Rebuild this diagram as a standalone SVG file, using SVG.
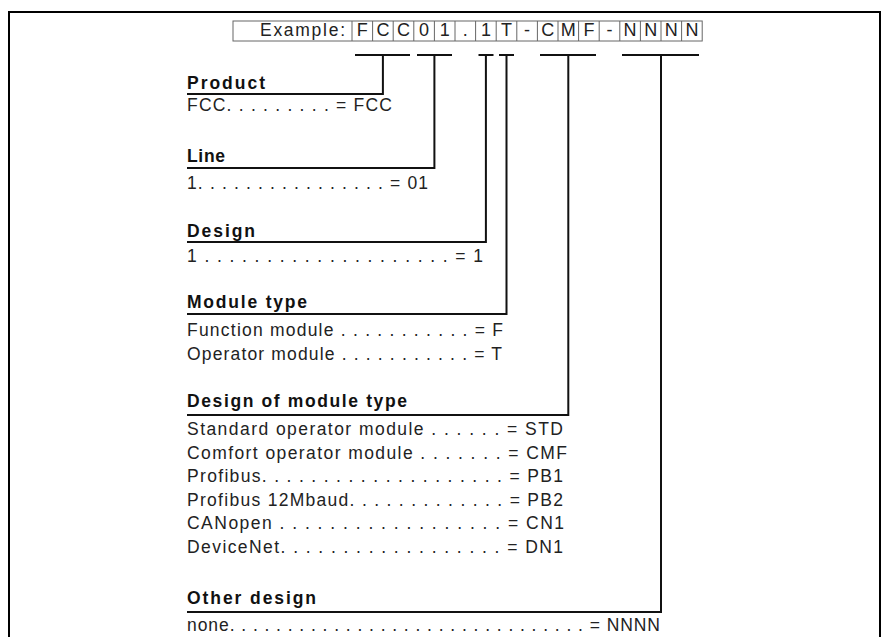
<svg xmlns="http://www.w3.org/2000/svg" width="883" height="637" viewBox="0 0 883 637">
<style>
.t{font-family:"Liberation Sans",Arial,sans-serif;font-size:17.5px;fill:#222;}
.h{font-family:"Liberation Sans",Arial,sans-serif;font-size:17.5px;font-weight:bold;fill:#111;}
.c{font-family:"Liberation Sans",Arial,sans-serif;font-size:18px;fill:#222;text-anchor:middle;}
.cell{fill:none;stroke:#666;stroke-width:1;}
.conn{fill:none;stroke:#111;stroke-width:2;}
.frame{fill:none;stroke:#000;stroke-width:2;}
</style>
<rect width="883" height="637" fill="#fff"/>
<polyline class="frame" points="9,637 9,12 880,12 880,637"/>
<g id="header">
<rect class="cell" x="233" y="21" width="469.2" height="20"/>
<path class="cell" d="M352,21V41M372.6,21V41M393.2,21V41M413.8,21V41M434.4,21V41M455,21V41M475.6,21V41M496.2,21V41M516.8,21V41M537.4,21V41M558,21V41M578.6,21V41M599.2,21V41M619.8,21V41M640.4,21V41M661,21V41M681.6,21V41"/>
<text class="t" x="260" y="36" textLength="85">Example:</text>
<text class="c" y="36"><tspan x="362.3">F</tspan><tspan x="382.9">C</tspan><tspan x="403.5">C</tspan><tspan x="424.1">0</tspan><tspan x="444.7">1</tspan><tspan x="465.3">.</tspan><tspan x="485.9">1</tspan><tspan x="506.5">T</tspan><tspan x="527.1">-</tspan><tspan x="547.7">C</tspan><tspan x="568.3">M</tspan><tspan x="588.9">F</tspan><tspan x="609.5">-</tspan><tspan x="630.1">N</tspan><tspan x="650.7">N</tspan><tspan x="671.3">N</tspan><tspan x="691.9">N</tspan></text>
</g>
<g id="connectors">
<path class="conn" d="M355,55H410M382.9,55V94H187"/>
<path class="conn" d="M417,55H452M434.4,55V168H187"/>
<path class="conn" d="M478.5,55H493.5M485.9,55V242H187"/>
<path class="conn" d="M499,55H514M506.5,55V314H187"/>
<path class="conn" d="M540,55H596M568.3,55V415H187"/>
<path class="conn" d="M622,55H699M661,55V612H187"/>
</g>
<g id="product">
<text class="h" x="187" y="89" textLength="78">Product</text>
<text class="t" x="187" y="111" textLength="205">FCC. . . . . . . . . = FCC</text>
</g>
<g id="line">
<text class="h" x="187" y="162" textLength="38">Line</text>
<text class="t" x="187" y="189" textLength="241">1. . . . . . . . . . . . . . . . = 01</text>
</g>
<g id="design">
<text class="h" x="187" y="237" textLength="68">Design</text>
<text class="t" x="187" y="262" textLength="296">1 . . . . . . . . . . . . . . . . . . . . = 1</text>
</g>
<g id="moduletype">
<text class="h" x="187" y="308" textLength="120">Module type</text>
<text class="t" x="187" y="336" textLength="316">Function module . . . . . . . . . . . = F</text>
<text class="t" x="187" y="360" textLength="315">Operator module . . . . . . . . . . . = T</text>
</g>
<g id="designofmoduletype">
<text class="h" x="187" y="407" textLength="220">Design of module type</text>
<text class="t" x="187" y="435" textLength="376">Standard operator module . . . . . . = STD</text>
<text class="t" x="187" y="458.5" textLength="380">Comfort operator module . . . . . . . = CMF</text>
<text class="t" x="187" y="482" textLength="376">Profibus. . . . . . . . . . . . . . . . . . . . = PB1</text>
<text class="t" x="187" y="505.5" textLength="376">Profibus 12Mbaud. . . . . . . . . . . . . = PB2</text>
<text class="t" x="187" y="529" textLength="377">CANopen . . . . . . . . . . . . . . . . . . = CN1</text>
<text class="t" x="187" y="552.5" textLength="376">DeviceNet. . . . . . . . . . . . . . . . . . = DN1</text>
</g>
<g id="otherdesign">
<text class="h" x="187" y="604" textLength="129">Other design</text>
<text class="t" x="187" y="631" textLength="473">none. . . . . . . . . . . . . . . . . . . . . . . . . . . . . . . = NNNN</text>
</g>
</svg>
